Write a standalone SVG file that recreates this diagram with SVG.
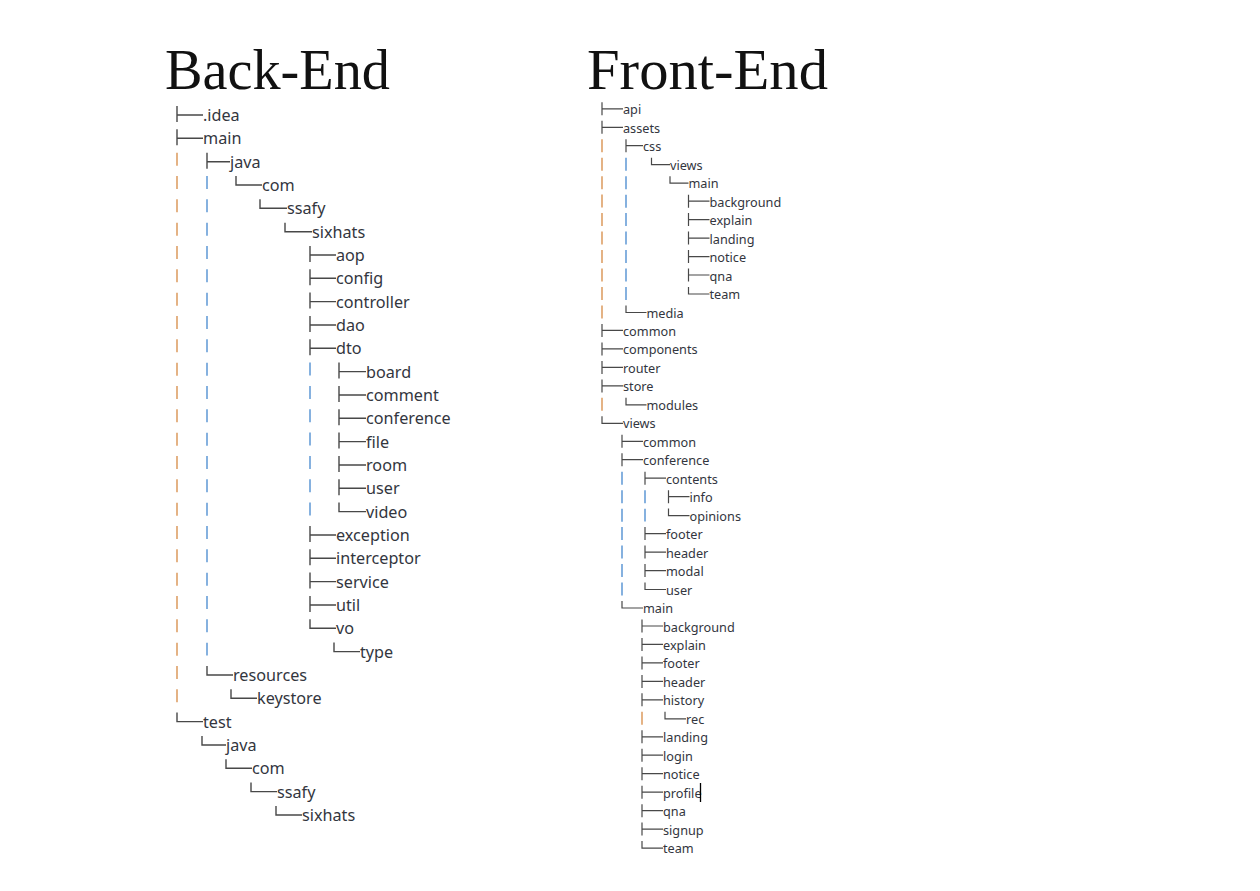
<svg xmlns="http://www.w3.org/2000/svg" width="1260" height="891" viewBox="0 0 1260 891">
<style>
.title{font-family:"Liberation Serif","Times New Roman",serif;font-size:57px;fill:#111}
.b{font-family:"Noto Sans","Liberation Sans",sans-serif;font-size:16.2px;fill:#33363e}
.f{font-family:"Noto Sans","Liberation Sans",sans-serif;font-size:12.7px;fill:#33363e}
.br{fill:none;stroke:#484848;stroke-width:1.4}
.fbr{fill:none;stroke:#484848;stroke-width:1.2}
.bo{fill:none;stroke:#e2ab78;stroke-width:1.8}
.bb{fill:none;stroke:#79a9dc;stroke-width:1.8}
.db{stroke-dasharray:13 10.333}
.df{stroke-dasharray:13 5.47}
</style>
<rect width="1260" height="891" fill="#ffffff"/>
<g id="titles">
<text class="title" x="165" y="89" textLength="225" lengthAdjust="spacingAndGlyphs">Back-End</text>
<text class="title" x="587" y="89" textLength="241" lengthAdjust="spacingAndGlyphs">Front-End</text>
</g>
<g id="connectors">
<g id="be-bars">
<path class="bo db" d="M177 152.7V702.3"/>
<path class="bb db" d="M207 176V655.6"/>
<path class="bb db" d="M310 362.6V515.6"/>
</g>
<g id="be-branches" class="br">
<path d="M177 106V122M177 115H203"/>
<path d="M177 129.3V145.3M177 138.3H203"/>
<path d="M207 152.7V168.7M207 161.7H230"/>
<path d="M236 176V185H262"/>
<path d="M260 199.3V208.3H287"/>
<path d="M285 222.7V231.7H312"/>
<path d="M310 246V262M310 255H336"/>
<path d="M310 269.3V285.3M310 278.3H336"/>
<path d="M310 292.6V308.6M310 301.6H336"/>
<path d="M310 316V332M310 325H336"/>
<path d="M310 339.3V355.3M310 348.3H336"/>
<path d="M339 362.6V378.6M339 371.6H366"/>
<path d="M339 386V402M339 395H366"/>
<path d="M339 409.3V425.3M339 418.3H366"/>
<path d="M339 432.6V448.6M339 441.6H366"/>
<path d="M339 456V472M339 465H366"/>
<path d="M339 479.3V495.3M339 488.3H366"/>
<path d="M339 502.6V511.6H366"/>
<path d="M310 526V542M310 535H336"/>
<path d="M310 549.3V565.3M310 558.3H336"/>
<path d="M310 572.6V588.6M310 581.6H336"/>
<path d="M310 596V612M310 605H336"/>
<path d="M310 619.3V628.3H336"/>
<path d="M334 642.6V651.6H360"/>
<path d="M207 666V675H233"/>
<path d="M231 689.3V698.3H257"/>
<path d="M177 712.6V721.6H203"/>
<path d="M202 736V745H226"/>
<path d="M226 759.3V768.3H252"/>
<path d="M251 782.6V791.6H277"/>
<path d="M276 806V815H302"/>
</g>
<g id="fe-bars">
<path class="bo df" d="M602 139.2V318.5"/>
<path class="bo" d="M602 397.8V410.8"/>
<path class="bb df" d="M626 157.7V300"/>
<path class="bb df" d="M622 471.7V595.5"/>
<path class="bb df" d="M645 490.2V521.6"/>
<path class="bo" d="M642 711.8V724.8"/>
</g>
<g id="fe-branches" class="fbr">
<path d="M602 102.3V115.3M602 108.8H623"/>
<path d="M602 120.8V133.8M602 127.3H623"/>
<path d="M626 139.2V152.2M626 145.7H643"/>
<path d="M651.5 157.7V164.7H670"/>
<path d="M670 176.2V183.2H688.5"/>
<path d="M688.5 194.7V207.7M688.5 201.2H709.5"/>
<path d="M688.5 213.1V226.1M688.5 219.6H709.5"/>
<path d="M688.5 231.6V244.6M688.5 238.1H709.5"/>
<path d="M688.5 250.1V263.1M688.5 256.6H709.5"/>
<path d="M688.5 268.5V281.5M688.5 275H709.5"/>
<path d="M688.5 287V294H709.5"/>
<path d="M626 305.5V312.5H646.5"/>
<path d="M602 323.9V336.9M602 330.4H623"/>
<path d="M602 342.4V355.4M602 348.9H623"/>
<path d="M602 360.9V373.9M602 367.4H623"/>
<path d="M602 379.4V392.4M602 385.9H623"/>
<path d="M626 397.8V404.8H646.5"/>
<path d="M602 416.3V423.3H623"/>
<path d="M622 434.8V447.8M622 441.3H643"/>
<path d="M622 453.2V466.2M622 459.7H643"/>
<path d="M645 471.7V484.7M645 478.2H666"/>
<path d="M668.5 490.2V503.2M668.5 496.7H689.5"/>
<path d="M668.5 508.6V515.6H689.5"/>
<path d="M645 527.1V540.1M645 533.6H666"/>
<path d="M645 545.6V558.6M645 552.1H666"/>
<path d="M645 564.1V577.1M645 570.6H666"/>
<path d="M645 582.5V589.5H666"/>
<path d="M622 601V608H643"/>
<path d="M642 619.5V632.5M642 626H663"/>
<path d="M642 637.9V650.9M642 644.4H663"/>
<path d="M642 656.4V669.4M642 662.9H663"/>
<path d="M642 674.9V687.9M642 681.4H663"/>
<path d="M642 693.3V706.3M642 699.8H663"/>
<path d="M665 711.8V718.8H686"/>
<path d="M642 730.3V743.3M642 736.8H663"/>
<path d="M642 748.7V761.7M642 755.2H663"/>
<path d="M642 767.2V780.2M642 773.7H663"/>
<path d="M642 785.7V798.7M642 792.2H663"/>
<path d="M642 804.2V817.2M642 810.7H663"/>
<path d="M642 822.6V835.6M642 829.1H663"/>
<path d="M642 841.1V848.1H663"/>
</g>
</g>
<g id="backend" class="b">
<g id="be-idea"><text x="203" y="121">.idea</text></g>
<g id="be-main"><text x="203" y="144.3">main</text></g>
<g id="be-main-java"><text x="230" y="167.7">java</text></g>
<g id="be-main-com"><text x="262" y="191">com</text></g>
<g id="be-main-ssafy"><text x="287" y="214.3">ssafy</text></g>
<g id="be-main-sixhats"><text x="312" y="237.7">sixhats</text></g>
<g id="be-aop"><text x="336" y="261">aop</text></g>
<g id="be-config"><text x="336" y="284.3">config</text></g>
<g id="be-controller"><text x="336" y="307.6">controller</text></g>
<g id="be-dao"><text x="336" y="331">dao</text></g>
<g id="be-dto"><text x="336" y="354.3">dto</text></g>
<g id="be-board"><text x="366" y="377.6">board</text></g>
<g id="be-comment"><text x="366" y="401">comment</text></g>
<g id="be-conference"><text x="366" y="424.3">conference</text></g>
<g id="be-file"><text x="366" y="447.6">file</text></g>
<g id="be-room"><text x="366" y="471">room</text></g>
<g id="be-user"><text x="366" y="494.3">user</text></g>
<g id="be-video"><text x="366" y="517.6">video</text></g>
<g id="be-exception"><text x="336" y="541">exception</text></g>
<g id="be-interceptor"><text x="336" y="564.3">interceptor</text></g>
<g id="be-service"><text x="336" y="587.6">service</text></g>
<g id="be-util"><text x="336" y="611">util</text></g>
<g id="be-vo"><text x="336" y="634.3">vo</text></g>
<g id="be-type"><text x="360" y="657.6">type</text></g>
<g id="be-resources"><text x="233" y="681">resources</text></g>
<g id="be-keystore"><text x="257" y="704.3">keystore</text></g>
<g id="be-test"><text x="203" y="727.6">test</text></g>
<g id="be-test-java"><text x="226" y="751">java</text></g>
<g id="be-test-com"><text x="252" y="774.3">com</text></g>
<g id="be-test-ssafy"><text x="277" y="797.6">ssafy</text></g>
<g id="be-test-sixhats"><text x="302" y="821">sixhats</text></g>
</g>
<g id="frontend" class="f">
<g id="fe-api"><text x="623" y="114.3">api</text></g>
<g id="fe-assets"><text x="623" y="132.8">assets</text></g>
<g id="fe-css"><text x="643" y="151.2">css</text></g>
<g id="fe-css-views"><text x="670" y="169.7">views</text></g>
<g id="fe-css-main"><text x="688.5" y="188.2">main</text></g>
<g id="fe-css-background"><text x="709.5" y="206.7">background</text></g>
<g id="fe-css-explain"><text x="709.5" y="225.1">explain</text></g>
<g id="fe-css-landing"><text x="709.5" y="243.6">landing</text></g>
<g id="fe-css-notice"><text x="709.5" y="262.1">notice</text></g>
<g id="fe-css-qna"><text x="709.5" y="280.5">qna</text></g>
<g id="fe-css-team"><text x="709.5" y="299">team</text></g>
<g id="fe-media"><text x="646.5" y="317.5">media</text></g>
<g id="fe-common"><text x="623" y="335.9">common</text></g>
<g id="fe-components"><text x="623" y="354.4">components</text></g>
<g id="fe-router"><text x="623" y="372.9">router</text></g>
<g id="fe-store"><text x="623" y="391.4">store</text></g>
<g id="fe-modules"><text x="646.5" y="409.8">modules</text></g>
<g id="fe-views"><text x="623" y="428.3">views</text></g>
<g id="fe-views-common"><text x="643" y="446.8">common</text></g>
<g id="fe-conference"><text x="643" y="465.2">conference</text></g>
<g id="fe-contents"><text x="666" y="483.7">contents</text></g>
<g id="fe-info"><text x="689.5" y="502.2">info</text></g>
<g id="fe-opinions"><text x="689.5" y="520.6">opinions</text></g>
<g id="fe-conf-footer"><text x="666" y="539.1">footer</text></g>
<g id="fe-conf-header"><text x="666" y="557.6">header</text></g>
<g id="fe-modal"><text x="666" y="576.1">modal</text></g>
<g id="fe-user"><text x="666" y="594.5">user</text></g>
<g id="fe-views-main"><text x="643" y="613">main</text></g>
<g id="fe-background"><text x="663" y="631.5">background</text></g>
<g id="fe-explain"><text x="663" y="649.9">explain</text></g>
<g id="fe-footer"><text x="663" y="668.4">footer</text></g>
<g id="fe-header"><text x="663" y="686.9">header</text></g>
<g id="fe-history"><text x="663" y="705.3">history</text></g>
<g id="fe-rec"><text x="686" y="723.8">rec</text></g>
<g id="fe-landing"><text x="663" y="742.3">landing</text></g>
<g id="fe-login"><text x="663" y="760.7">login</text></g>
<g id="fe-notice"><text x="663" y="779.2">notice</text></g>
<g id="fe-profile"><text x="663" y="797.7">profile</text><path d="M700.5 783V802" stroke="#000" stroke-width="1.3"/></g>
<g id="fe-qna"><text x="663" y="816.2">qna</text></g>
<g id="fe-signup"><text x="663" y="834.6">signup</text></g>
<g id="fe-team"><text x="663" y="853.1">team</text></g>
</g>
</svg>
